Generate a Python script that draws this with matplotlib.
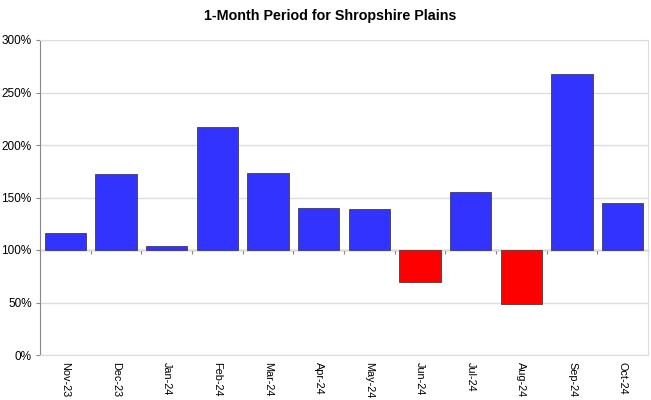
import numpy as np
import matplotlib.pyplot as plt
from matplotlib.ticker import FuncFormatter

plt.rcParams['font.family'] = ['Liberation Sans', 'DejaVu Sans']

# Data
months = ["Nov-23", "Dec-23", "Jan-24", "Feb-24", "Mar-24", "Apr-24",
          "May-24", "Jun-24", "Jul-24", "Aug-24", "Sep-24", "Oct-24"]
values = [116.5, 172, 104, 217, 173, 140, 139.5, 69.5, 155, 48.5, 268, 145]
baseline = 100

x = np.arange(len(months))
heights = [v - baseline for v in values]
colors = ["#3333FF" if v >= baseline else "#FF0000" for v in values]

fig = plt.figure(figsize=(6.51, 4.0), dpi=100)
ax = fig.add_axes([40 / 651, 1 - 355 / 400, 608 / 651, 315 / 400])

ax.bar(x, heights, bottom=baseline, width=0.82, color=colors,
       edgecolor="#404040", linewidth=0.6, zorder=3)

ax.set_xlim(-0.5, len(months) - 0.5)
ax.set_ylim(0, 300)
ax.set_yticks(np.arange(0, 301, 50))
ax.yaxis.set_major_formatter(FuncFormatter(lambda v, p: f"{int(v)}%"))
ax.yaxis.grid(True, color="#dddddd", linewidth=1, zorder=0)
ax.tick_params(axis="y", labelsize=8.5, length=3, color="#888888", pad=3)

# month labels along the bottom, no tick marks
ax.set_xticks(x)
ax.set_xticklabels(months, rotation=270, fontsize=7.8)
ax.tick_params(axis="x", length=0, pad=5)

for side in ["top", "right", "bottom"]:
    ax.spines[side].set_color("#dddddd")
ax.spines["left"].set_color("#888888")

# category axis crosses at 100%
sec = ax.secondary_xaxis(baseline / 300)
sec.set_xticks(np.arange(len(months) + 1) - 0.5)
sec.set_xticklabels([])
sec.tick_params(length=3, color="#888888", direction="out")
sec.spines["bottom"].set_color("#888888")
sec.spines["bottom"].set_linewidth(1)

fig.text(330 / 651, 1 - 16 / 400, "1-Month Period for Shropshire Plains",
         fontsize=10.3, fontweight="bold", ha="center", va="center")

fig.savefig("out.png", dpi=100)
